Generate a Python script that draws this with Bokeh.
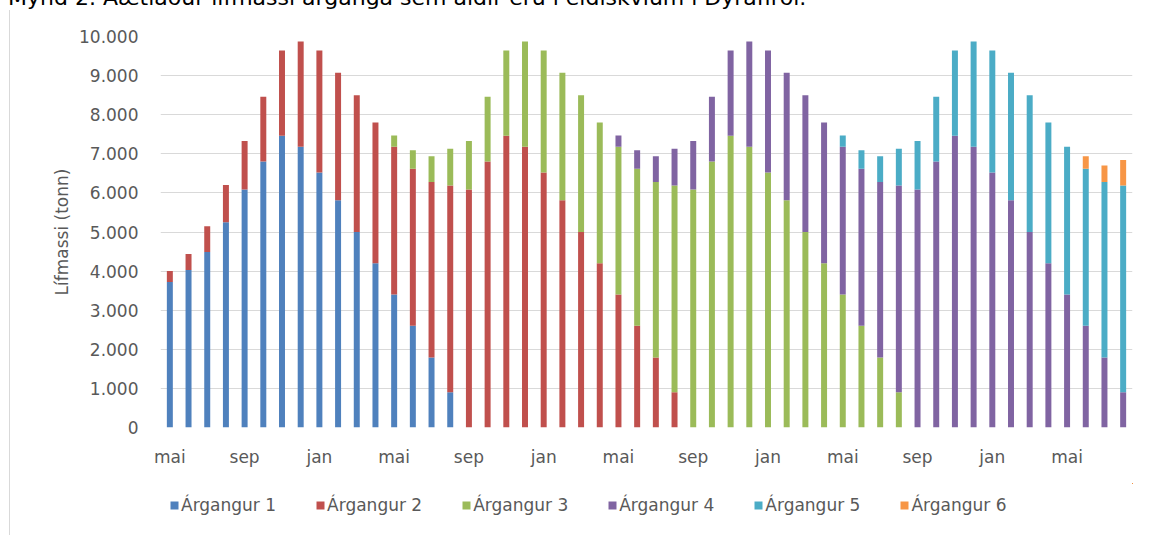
from bokeh.plotting import figure
from bokeh.layouts import column
from bokeh.models import (ColumnDataSource, Range1d, FixedTicker, Legend, LegendItem, Div)
from bokeh.embed import file_html
from bokeh.resources import INLINE

# ---- data (tonn) ----
n_bars = 52
tick_positions = list(range(0, 52, 4))
tick_labels = ["mai", "sep", "jan", "mai", "sep", "jan", "mai", "sep", "jan",
               "mai", "sep", "jan", "mai"]

argangur_1 = [3720, 4030, 4490, 5250, 6090, 6800, 7460, 7180, 6520, 5810, 5000, 4200,
              3400, 2600, 1790, 900] + [0] * 36
argangur_2 = [280, 410, 660, 950, 1240, 1660, 2180, 2690, 3120, 3260, 3500, 3600,
              3780, 4020, 4490, 5290,
              6090, 6800, 7460, 7180, 6520, 5810, 5000, 4200,
              3400, 2600, 1790, 900] + [0] * 24
argangur_3 = [0] * 12 + [290, 470, 660, 940,
                         1240, 1660, 2180, 2690, 3120, 3260, 3500, 3600,
                         3780, 4020, 4490, 5290,
                         6090, 6800, 7460, 7180, 6520, 5810, 5000, 4200,
                         3400, 2600, 1790, 900] + [0] * 12
argangur_4 = [0] * 24 + [290, 470, 660, 940,
                         1240, 1660, 2180, 2690, 3120, 3260, 3500, 3600,
                         3780, 4020, 4490, 5290,
                         6090, 6800, 7460, 7180, 6520, 5810, 5000, 4200,
                         3400, 2600, 1790, 900]
argangur_5 = [0] * 36 + [290, 470, 660, 940,
                         1240, 1660, 2180, 2690, 3120, 3260, 3500, 3600,
                         3780, 4020, 4490, 5290]
argangur_6 = [0] * 49 + [320, 420, 650]

series_names = ["Árgangur 1", "Árgangur 2", "Árgangur 3", "Árgangur 4",
                "Árgangur 5", "Árgangur 6"]
colors = ["#4F81BD", "#C0504D", "#9BBB59", "#8064A2", "#4BACC6", "#F79646"]
caption = "Mynd 2. Áætlaður lífmassi árganga sem aldir eru í eldiskvíum í Dýrafirði."

keys = ["a1", "a2", "a3", "a4", "a5", "a6"]
source = ColumnDataSource(dict(x=list(range(n_bars)), a1=argangur_1, a2=argangur_2,
                               a3=argangur_3, a4=argangur_4, a5=argangur_5,
                               a6=argangur_6))

FONT = "DejaVu Sans"
FS = "17px"
TXT = "#595959"
FRAME_LINE = "linear-gradient(to right, #ffffff 9px, #d9d9d9 9px, #d9d9d9 10px, #ffffff 10px)"

# ---- caption strip (only the lower edge of the caption is visible, as in the source) ----
cap = Div(text=(
    '<div style="position:relative; width:1150px; height:10px;">'
    '<div style="position:absolute; top:-17px; left:8px; white-space:nowrap; '
    'font-family:\'DejaVu Sans\'; font-size:22px; line-height:26px; color:#000;">'
    f'{caption}</div>'
    '<div style="position:absolute; top:9px; left:9px; width:1141px; height:1px; '
    'background:#d9d9d9;"></div></div>'),
    width=1150, height=10, margin=0, styles={"overflow": "hidden"})

# ---- main chart ----
p = figure(width=1150, height=473, output_backend="svg", toolbar_location=None,
           x_range=Range1d(-0.5, n_bars - 0.5), y_range=Range1d(0, 10000),
           min_border_left=160, min_border_right=18, min_border_top=26,
           min_border_bottom=56)
p.styles = {"background": FRAME_LINE}
p.outline_line_color = None
p.background_fill_color = "white"
p.border_fill_color = None

p.vbar_stack(keys, x="x", width=0.32, color=colors, line_color=None, source=source)

p.xaxis.ticker = FixedTicker(ticks=tick_positions)
p.xaxis.major_label_overrides = {t: l for t, l in zip(tick_positions, tick_labels)}
p.xaxis.axis_line_color = None
p.xaxis.major_tick_line_color = None
p.xaxis.minor_tick_line_color = None
p.xaxis.major_tick_out = 0
p.xaxis.major_tick_in = 0
p.xaxis.major_label_standoff = 19
p.xaxis.major_label_text_font = FONT
p.xaxis.major_label_text_font_size = FS
p.xaxis.major_label_text_color = TXT

y_ticks = list(range(0, 10001, 1000))
p.yaxis.ticker = FixedTicker(ticks=y_ticks)
p.yaxis.major_label_overrides = {t: f"{t:,}".replace(",", ".") for t in y_ticks}
p.yaxis.axis_line_color = None
p.yaxis.major_tick_line_color = None
p.yaxis.minor_tick_line_color = None
p.yaxis.major_tick_out = 0
p.yaxis.major_tick_in = 0
p.yaxis.major_label_standoff = 22
p.yaxis.major_label_text_font = FONT
p.yaxis.major_label_text_font_size = FS
p.yaxis.major_label_text_color = TXT
p.yaxis.axis_label = "Lífmassi (tonn)"
p.yaxis.axis_label_text_font = FONT
p.yaxis.axis_label_text_font_size = FS
p.yaxis.axis_label_text_font_style = "normal"
p.yaxis.axis_label_text_color = TXT
p.yaxis.axis_label_standoff = 4

p.xgrid.grid_line_color = None
p.ygrid.grid_line_color = "#d9d9d9"
p.ygrid.grid_line_width = 1

# ---- legend strip: same stacked bars, but the view ranges hold no bars, so only keys show ----
lg = figure(width=1150, height=52, output_backend="svg", toolbar_location=None,
            x_range=Range1d(-3, -2), y_range=Range1d(-2, -1),
            x_axis_location=None, y_axis_location=None,
            min_border_left=0, min_border_right=0, min_border_top=0, min_border_bottom=0)
lg.styles = {"background": FRAME_LINE}
lg.outline_line_color = None
lg.border_fill_color = None
lg.background_fill_color = None
lg.grid.visible = False
key_renderers = lg.vbar_stack(keys, x="x", width=0.32, color=colors, line_color=None,
                              source=source)

legend = Legend(items=[LegendItem(label=n, renderers=[r]) for n, r in zip(series_names, key_renderers)],
                orientation="horizontal", location=(9, 20),
                glyph_width=10, glyph_height=10, label_standoff=2, spacing=39,
                padding=0, margin=0, border_line_color=None, background_fill_alpha=0,
                label_text_font=FONT, label_text_font_size=FS, label_text_color=TXT)
lg.add_layout(legend)

open("out.html", "w").write(file_html(column(cap, p, lg, spacing=0), INLINE))
